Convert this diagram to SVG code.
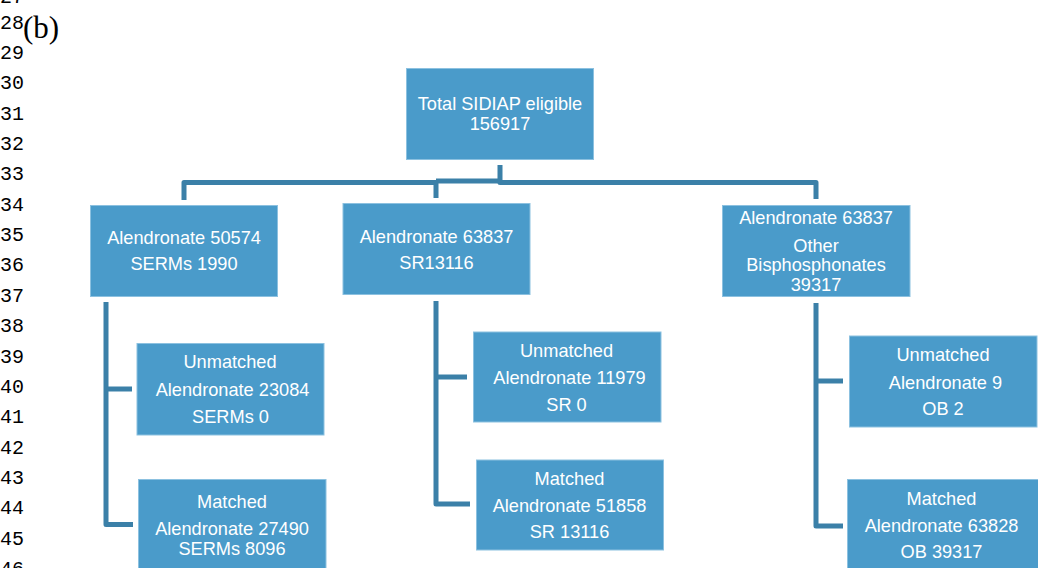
<svg xmlns="http://www.w3.org/2000/svg" width="1038" height="568" viewBox="0 0 1038 568">
<style>
.ln{font-family:"Liberation Mono","Courier New",monospace;font-size:20px;fill:#000}
.box{fill:#4A9BCA;stroke:#8CC1E0;stroke-width:1}
.t{font-family:"Liberation Sans",Arial,sans-serif;font-size:18.2px;fill:#FFFFFF;text-anchor:middle}
.c{fill:none;stroke:#3B80A8;stroke-width:5;stroke-linejoin:round;stroke-linecap:butt}
</style>
<rect width="1038" height="568" fill="#FFFFFF"/>
<g id="line-numbers">
<text class="ln" x="0" y="3">27</text>
<text class="ln" x="0" y="28.5">28</text>
<text class="ln" x="0" y="58.8">29</text>
<text class="ln" x="0" y="89.2">30</text>
<text class="ln" x="0" y="119.6">31</text>
<text class="ln" x="0" y="149.9">32</text>
<text class="ln" x="0" y="180.3">33</text>
<text class="ln" x="0" y="210.7">34</text>
<text class="ln" x="0" y="241">35</text>
<text class="ln" x="0" y="271.4">36</text>
<text class="ln" x="0" y="301.8">37</text>
<text class="ln" x="0" y="332.1">38</text>
<text class="ln" x="0" y="362.5">39</text>
<text class="ln" x="0" y="392.9">40</text>
<text class="ln" x="0" y="423.2">41</text>
<text class="ln" x="0" y="453.6">42</text>
<text class="ln" x="0" y="484">43</text>
<text class="ln" x="0" y="514.3">44</text>
<text class="ln" x="0" y="544.7">45</text>
<text class="ln" x="0" y="575.1">46</text>
</g>
<text id="label-b" x="23" y="37.5" font-family="'Liberation Serif','Times New Roman',serif" font-size="31" fill="#000">(b)</text>
<g id="connectors">
<path class="c" d="M184,200 V182.5 H436 V198"/>
<path class="c" d="M436,181 H500"/>
<path class="c" d="M500,165 V182.5 H816 V199"/>
<path class="c" d="M106,302 V524.5 H133"/>
<path class="c" d="M106,389 H132"/>
<path class="c" d="M436,301 V504 H470"/>
<path class="c" d="M436,377 H467"/>
<path class="c" d="M816,303 V526 H843"/>
<path class="c" d="M816,381 H843"/>
</g>
<g id="total">
<rect class="box" x="406.5" y="68.5" width="187" height="91"/>
<text class="t" x="500" y="109.5">Total SIDIAP eligible</text>
<text class="t" x="500" y="129.5">156917</text>
</g>
<g id="alen-serms">
<rect class="box" x="90.5" y="205.5" width="187" height="91"/>
<text class="t" x="184" y="244">Alendronate 50574</text>
<text class="t" x="184" y="269.5">SERMs 1990</text>
</g>
<g id="alen-sr">
<rect class="box" x="343" y="203.5" width="187" height="91"/>
<text class="t" x="436.5" y="242.5">Alendronate 63837</text>
<text class="t" x="436.5" y="269">SR13116</text>
</g>
<g id="alen-ob">
<rect class="box" x="722.5" y="205.5" width="187.5" height="91"/>
<text class="t" x="816" y="224">Alendronate 63837</text>
<text class="t" x="816" y="251.5">Other</text>
<text class="t" x="816" y="270.5">Bisphosphonates</text>
<text class="t" x="816" y="290.5">39317</text>
</g>
<g id="unmatched-serms">
<rect class="box" x="137" y="343.5" width="187" height="91.5"/>
<text class="t" x="230" y="368">Unmatched</text>
<text class="t" x="232.5" y="395.5">Alendronate 23084</text>
<text class="t" x="230.5" y="422.5">SERMs 0</text>
</g>
<g id="matched-serms">
<rect class="box" x="138.5" y="479.5" width="187.5" height="95"/>
<text class="t" x="232" y="508">Matched</text>
<text class="t" x="232" y="534.5">Alendronate 27490</text>
<text class="t" x="232" y="554.5">SERMs 8096</text>
</g>
<g id="unmatched-sr">
<rect class="box" x="473.5" y="332" width="187.5" height="90"/>
<text class="t" x="566.5" y="356.5">Unmatched</text>
<text class="t" x="569.5" y="383.5">Alendronate 11979</text>
<text class="t" x="566.5" y="410.5">SR 0</text>
</g>
<g id="matched-sr">
<rect class="box" x="476.5" y="460" width="187" height="90"/>
<text class="t" x="569.5" y="484.5">Matched</text>
<text class="t" x="569.5" y="511.5">Alendronate 51858</text>
<text class="t" x="569.5" y="538">SR 13116</text>
</g>
<g id="unmatched-ob">
<rect class="box" x="849.5" y="336" width="187.5" height="91"/>
<text class="t" x="943" y="361">Unmatched</text>
<text class="t" x="945.5" y="388.5">Alendronate 9</text>
<text class="t" x="943" y="414.5">OB 2</text>
</g>
<g id="matched-ob">
<rect class="box" x="847.5" y="479.5" width="191" height="95"/>
<text class="t" x="941.5" y="504.5">Matched</text>
<text class="t" x="941.5" y="531.5">Alendronate 63828</text>
<text class="t" x="941.5" y="558">OB 39317</text>
</g>
</svg>
